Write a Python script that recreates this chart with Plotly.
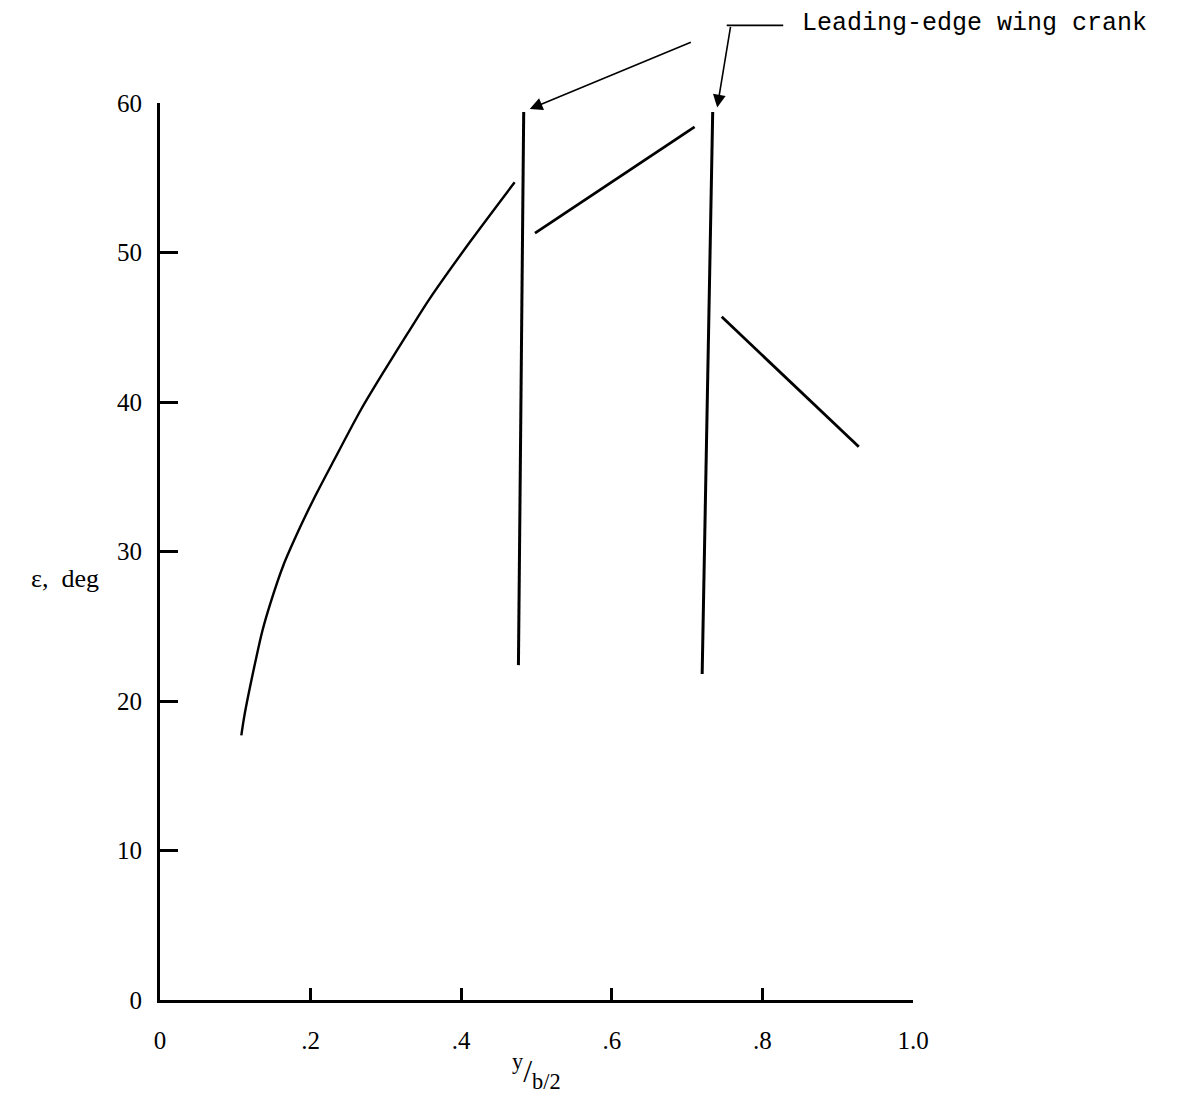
import plotly.graph_objects as go

# Data (x = y/(b/2), eps in deg)
curve_x = [0.108, 0.112, 0.124, 0.136, 0.147, 0.164, 0.184, 0.204, 0.231, 0.267, 0.298, 0.329, 0.358, 0.413, 0.471]
curve_eps = [17.7, 19.0, 22.0, 24.7, 26.6, 29.1, 31.4, 33.5, 36.1, 39.5, 42.1, 44.6, 46.9, 50.8, 54.7]

crank1_x = [0.483, 0.476]
crank1_eps = [59.4, 22.4]

seg2_x = [0.498, 0.710]
seg2_eps = [51.3, 58.4]

crank2_x = [0.734, 0.720]
crank2_eps = [59.4, 21.8]

seg3_x = [0.746, 0.928]
seg3_eps = [45.7, 37.0]

x_tickvals = [0, 0.2, 0.4, 0.6, 0.8, 1.0]
x_ticktext = ["0", ".2", ".4", ".6", ".8", "1.0"]
y_tickvals = [0, 10, 20, 30, 40, 50, 60]
y_ticktext = ["0", "10", "20", "30", "40", "50", "60"]

annot_text = "Leading-edge wing crank"

FONT = "Liberation Serif"

fig = go.Figure()
fig.add_trace(go.Scatter(x=curve_x, y=curve_eps, mode="lines",
                         line=dict(color="black", width=2.4, shape="spline", smoothing=0.8),
                         showlegend=False, hoverinfo="skip"))
for xs, ys, w in [(crank1_x, crank1_eps, 3),
                  (seg2_x, seg2_eps, 2.8), (crank2_x, crank2_eps, 3),
                  (seg3_x, seg3_eps, 2.8)]:
    fig.add_trace(go.Scatter(x=xs, y=ys, mode="lines",
                             line=dict(color="black", width=w),
                             showlegend=False, hoverinfo="skip"))

# Arrows to the cranks
fig.add_annotation(x=0.491, y=59.6, ax=0.707, ay=64.1, xref="x", yref="y",
                   axref="x", ayref="y", text="", showarrow=True,
                   arrowhead=2, arrowsize=1.6, arrowwidth=1.6, arrowcolor="black")
fig.add_annotation(x=0.740, y=59.7, ax=0.758, ay=65.2, xref="x", yref="y",
                   axref="x", ayref="y", text="", showarrow=True,
                   arrowhead=2, arrowsize=1.6, arrowwidth=1.6, arrowcolor="black")
# Leader line (horizontal) from label to corner
fig.add_annotation(x=0.7526, y=1.0865, xref="paper", yref="paper",
                   ax=58, ay=0, text="", showarrow=True,
                   arrowhead=0, arrowwidth=1.6, arrowcolor="black")
fig.add_annotation(x=0.850, y=1.0885, xref="paper", yref="paper", text=annot_text,
                   showarrow=False, xanchor="left", yanchor="middle",
                   font=dict(family="Liberation Mono", size=25, color="black"))

# Axis titles
fig.add_annotation(x=-0.126, y=28.2, xref="paper", yref="y", text="\u03b5,  deg",
                   showarrow=False, xanchor="center", yanchor="middle",
                   font=dict(family=FONT, size=26, color="black"))
fig.add_annotation(x=0.5, y=-0.08, xref="x", yref="paper",
                   text="<sup>y</sup>/<sub>b/2</sub>",
                   showarrow=False, xanchor="center", yanchor="middle",
                   font=dict(family=FONT, size=32, color="black"))

fig.update_layout(
    width=1177, height=1094,
    margin=dict(l=160, r=264, t=103, b=94),
    paper_bgcolor="white", plot_bgcolor="white",
    xaxis=dict(range=[0, 1.0], tickvals=x_tickvals, ticktext=x_ticktext,
               showgrid=False, zeroline=False, showline=True, linewidth=3,
               linecolor="black", ticks="inside", ticklen=12, tickwidth=2.5,
               tickcolor="black", ticklabelstandoff=16,
               tickfont=dict(family=FONT, size=25, color="black")),
    yaxis=dict(range=[0, 60], tickvals=y_tickvals, ticktext=y_ticktext,
               showgrid=False, zeroline=False, showline=True, linewidth=3,
               linecolor="black", ticks="inside", ticklen=18, tickwidth=2.5,
               tickcolor="black", ticklabelstandoff=10,
               tickfont=dict(family=FONT, size=25, color="black")),
)

fig.write_html("out.html")
